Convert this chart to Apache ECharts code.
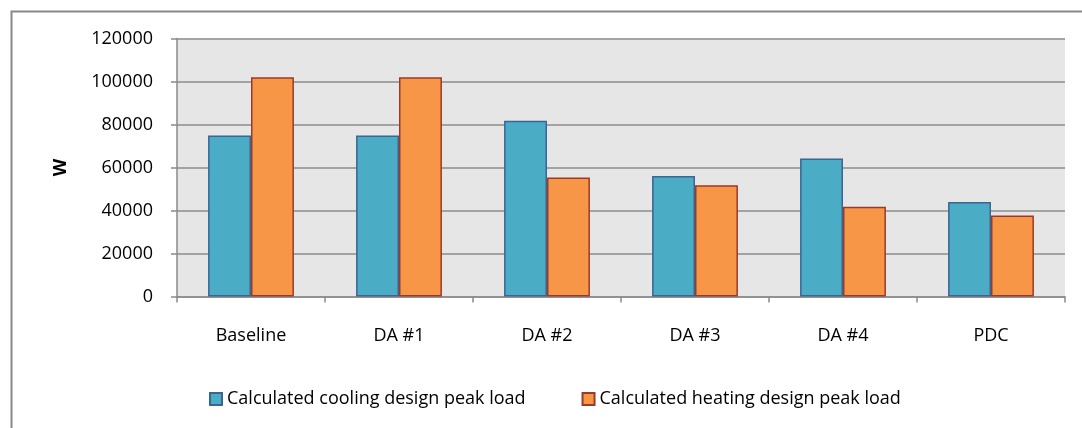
<!DOCTYPE html>
<html>
<head>
<meta charset="utf-8">
<script src="https://cdn.jsdelivr.net/npm/echarts@6/dist/echarts.min.js"></script>
<style>
  html, body { margin: 0; padding: 0; background: #ffffff; }
  #chart { width: 1082px; height: 428px; }
</style>
</head>
<body>
<div id="chart"></div>
<script>
const categories = ['Baseline', 'DA #1', 'DA #2', 'DA #3', 'DA #4', 'PDC'];
const coolingName = 'Calculated cooling design peak load';
const heatingName = 'Calculated heating design peak load';
const coolingValues = [74900, 74900, 81700, 56000, 64200, 43900];
const heatingValues = [102000, 102000, 55400, 51800, 41700, 37700];
const yTicks = [0, 20000, 40000, 60000, 80000, 100000, 120000];
const yAxisTitle = 'W';

const FONT = '"Open Sans", "Liberation Sans", sans-serif';

const chart = echarts.init(document.getElementById('chart'), null, { renderer: 'canvas' });
chart.setOption({
  animation: false,
  backgroundColor: '#ffffff',
  graphic: [{
    type: 'rect',
    left: 9, top: 9,
    shape: { x: 0, y: 0, width: 1200, height: 600 },
    style: { fill: 'none', stroke: '#888888', lineWidth: 2 },
    z: -10
  }],
  grid: {
    left: 177, right: 17, top: 38.5, bottom: 131.5,
    show: true, backgroundColor: '#e6e6e6', borderWidth: 0,
    containLabel: false
  },
  legend: {
    data: [coolingName, heatingName],
    left: 204, top: 385,
    icon: 'rect', itemWidth: 12, itemHeight: 12, itemGap: 56,
    textStyle: { fontFamily: FONT, fontSize: 18, color: '#000000' }
  },
  xAxis: {
    type: 'category',
    data: categories,
    axisLine: { show: true, lineStyle: { color: '#8a8a8a', width: 1.5 } },
    axisTick: { show: true, length: 6, inside: false, alignWithLabel: false, lineStyle: { color: '#8a8a8a', width: 1.5 } },
    axisLabel: { margin: 30, fontFamily: FONT, fontSize: 18, color: '#000000' },
    splitLine: { show: false }
  },
  yAxis: {
    type: 'value',
    min: yTicks[0], max: yTicks[yTicks.length - 1], interval: 20000,
    name: yAxisTitle,
    nameLocation: 'middle', nameGap: 107, nameRotate: 90,
    nameTextStyle: { fontFamily: FONT, fontSize: 18, fontWeight: 'bold', color: '#000000' },
    axisLine: { show: true, lineStyle: { color: '#8a8a8a', width: 1.5 } },
    axisTick: { show: true, length: 6, lineStyle: { color: '#8a8a8a', width: 1.5 } },
    axisLabel: { margin: 24, fontFamily: FONT, fontSize: 18, color: '#000000',
      formatter: v => String(v) },
    splitLine: { show: true, lineStyle: { color: '#8c8c8c', width: 1.5 } }
  },
  series: [
    {
      name: coolingName, type: 'bar', data: coolingValues,
      barGap: '0%', barCategoryGap: '42%',
      itemStyle: { color: '#4bacc6', borderColor: '#3a6594', borderWidth: 1.5 }
    },
    {
      name: heatingName, type: 'bar', data: heatingValues,
      barGap: '0%', barCategoryGap: '42%',
      itemStyle: { color: '#f79646', borderColor: '#9a3a2c', borderWidth: 1.5 }
    }
  ]
});
</script>
</body>
</html>
